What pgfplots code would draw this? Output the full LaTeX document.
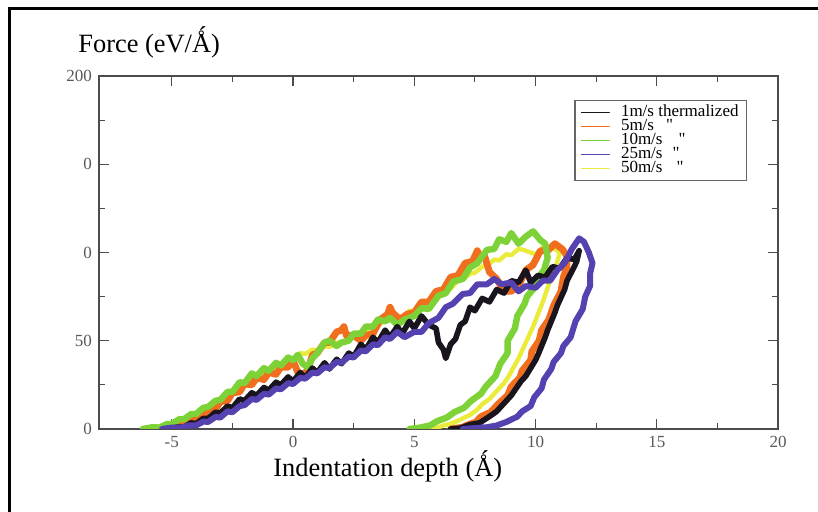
\documentclass[border=0pt]{standalone}
\usepackage{fontspec}
\setmainfont{Liberation Serif}
\usepackage{pgfplots}
\pgfplotsset{compat=1.18}

\definecolor{cBlack}{RGB}{25,20,30}
\definecolor{cOrange}{RGB}{240,110,30}
\definecolor{cGreen}{RGB}{125,210,55}
\definecolor{cBlue}{RGB}{85,65,175}
\definecolor{cYellow}{RGB}{235,235,60}

\begin{document}
\begin{tikzpicture}
\useasboundingbox (0,0) rectangle (409pt,256pt);
\fill[white] (0,0) rectangle (409pt,256pt);
\draw[line width=1.5pt] (4.5pt,-5pt) -- (4.5pt,251.8pt) -- (415pt,251.8pt);

\begin{axis}[
  at={(49.5pt,41.5pt)}, anchor=south west,
  scale only axis, width=339.5pt, height=176.5pt,
  xmin=-8, xmax=20, ymin=0, ymax=200,
  xtick={-5,0,5,10,15,20}, minor x tick num=1,
  ytick={0,50,100,150,200}, yticklabels={0,50,0,0,200}, minor y tick num=1,
  tick align=inside, major tick length=5pt, minor tick length=3pt,
  axis line style={draw=black!70, line width=0.7pt},
  every tick/.style={black!70, line width=0.6pt},
  tick label style={font=\fontsize{8.5}{9}\selectfont, text=black!65},
  /pgf/number format/assume math mode=true,
  legend style={at={(0.70,0.932)}, anchor=north west, draw=black!60,
    line width=0.6pt, font=\fontsize{8.5}{8.5}\selectfont,
    nodes={inner ysep=0pt, inner xsep=1pt, text height=5.3pt, text depth=1.7pt},
    row sep=0pt, inner xsep=3pt, inner ysep=2.5pt,
    cells={anchor=west}},
  legend cell align=left,
  legend image code/.code={\draw[#1, line width=0.5pt] (0pt,0pt) -- (14pt,0pt); \path (18.5pt,0pt);},
  every axis plot/.append style={line join=round, line cap=round},
]
% 50 m/s
\addplot[cYellow, line width=2.2pt, forget plot] coordinates {
(-6,0) (-5.5,1.5) (-5,1.5) (-4.7,4.5) (-4.5,4.5) (-4.2,7.5) (-4,7.5) (-3.7,11) (-3.5,11.5) (-3.2,15)
(-3,15.5) (-2.7,19) (-2.5,19.5) (-2.2,24) (-2,24.5) (-1.7,28) (-1.5,28.5) (-1.2,32) (-1,31.5) (-0.7,35)
(-0.5,35.5) (-0.2,39) (0,39.5) (0.3,43) (0.5,42.5) (0.8,45) (1,44.5) (1.3,47) (1.5,46.5) (1.8,49)
(2,48.5) (2.3,52) (2.5,51.5) (2.8,55) (3,55.5) (3.3,59) (3.5,58.5) (3.8,62) (4,61.5) (4.3,64)
(4.5,63.5) (4.8,67) (5,66.5) (5.3,70) (5.5,70.5) (5.8,75) (6,75.5) (6.3,79) (6.5,79.5) (6.8,84)
(7,84.5) (7.3,88) (7.5,88.5) (7.8,92) (8,92.5) (8.3,96) (8.5,95.5) (8.8,99) (9,98.5) (9.3,102)
(9.5,101.5) (9.8,100) (10,99) (10.3,103) (10.5,102) (10.8,102) (11,100) (10.9,95) (10.8,91) (10.6,84)
(10.5,80) (10.3,72) (10.1,65) (9.9,58) (9.7,52) (9.5,46) (9.3,40) (9.1,35) (8.9,30) (8.7,26)
(8.5,23) (8.3,20) (8.1,17) (7.8,14) (7.6,11) (7.3,8) (7,6) (6.7,4) (6.5,3) (6.2,2) (6,1) (5.5,0)
};
% 5 m/s
\addplot[cOrange, line width=3.4pt, forget plot] coordinates {
(-5.6,0) (-5.2,1.5) (-4.8,1.5) (-4.5,4) (-4.2,4.5) (-4,7) (-3.7,7.5) (-3.5,11) (-3.2,11) (-3,15.5)
(-2.7,16) (-2.5,20.5) (-2.2,21) (-2,25.5) (-1.7,25) (-1.5,29) (-1.2,28) (-1,32) (-0.7,31) (-0.5,35)
(-0.2,35) (0,39) (0.2,32) (0.4,31) (0.6,33) (0.8,42) (1,43) (1.3,49) (1.5,49) (1.8,55)
(2,56) (2.1,58) (2.2,53) (2.5,53) (2.8,50) (3,53) (3.3,54) (3.6,62) (3.9,65) (4,69)
(4.1,66) (4.4,62) (4.7,65) (5,66) (5.3,72) (5.6,72) (5.9,78) (6.2,79) (6.5,86) (6.8,87)
(7.1,94) (7.4,95) (7.6,101) (7.7,98) (7.9,98) (8.1,89) (8.4,85) (8.7,78) (9,78) (9.3,81)
(9.6,90) (9.9,93) (10.2,101) (10.5,101) (10.8,105) (11.1,102) (11.3,98) (11.3,92) (11.15,86) (11.05,78)
(10.75,70) (10.55,62) (10.25,56) (10.15,50) (9.85,44) (9.8,39) (9.45,33) (9.35,29) (9,24) (8.85,19)
(8.45,14) (8.15,9.5) (7.75,7) (7.55,4) (7.15,2) (7,1) (6.5,0)
};
% 10 m/s
\addplot[cGreen, line width=3.2pt, forget plot] coordinates {
(-6.2,0) (-5.8,1) (-5.5,0.8) (-5.2,2.8) (-5,2.8) (-4.7,5.5) (-4.5,5.5) (-4.2,8.5) (-4,8.5) (-3.7,12)
(-3.5,12.5) (-3.2,16) (-3,16.5) (-2.7,21) (-2.5,21) (-2.2,26.5) (-2,26) (-1.7,31.5) (-1.5,30) (-1.2,34.5)
(-1,33) (-0.7,37.5) (-0.5,36) (-0.2,40.5) (0,39) (0.2,42) (0.4,37) (0.6,35) (0.8,40) (1,43)
(1.3,49) (1.5,50) (1.8,47) (2,49) (2.3,50) (2.5,54) (2.8,54) (3,58) (3.3,58) (3.5,62)
(3.8,61) (4,63) (4.3,59) (4.6,62) (5,64) (5.3,68.5) (5.6,68) (6,75.5) (6.3,77) (6.6,83.5)
(7,85) (7.3,91.5) (7.6,94) (8,101.5) (8.3,102) (8.5,107.5) (8.8,106) (9,111) (9.3,105) (9.6,109)
(9.9,112) (10.2,107) (10.4,105) (10.5,97) (10.35,90) (10.05,85) (9.95,80) (9.65,75) (9.55,71) (9.25,64)
(9.15,57) (8.85,50) (8.85,43) (8.55,37) (8.35,30) (7.95,24) (7.75,20) (7.35,16) (7.05,12) (6.65,9.5)
(6.35,6.5) (5.95,4.5) (5.65,2) (5.2,0.7) (4.8,0)
};
% 1 m/s thermalized
\addplot[cBlack, line width=2.8pt, forget plot] coordinates {
(-5.2,0) (-4.8,1) (-4.5,1) (-4.2,3.5) (-4,3) (-3.7,6) (-3.5,6) (-3.2,9.5) (-3,9) (-2.7,13)
(-2.5,12) (-2.2,17) (-2,16) (-1.7,20.5) (-1.5,19) (-1.2,23.5) (-1,22) (-0.7,26.5) (-0.5,25) (-0.2,29.5)
(0,27) (0.3,32) (0.5,29) (0.8,34.5) (1,32) (1.3,37.5) (1.5,34) (1.8,39.5) (2,37) (2.3,43)
(2.5,41) (2.8,48) (3,45) (3.3,52) (3.5,49) (3.8,56) (4,52) (4.3,58) (4.5,54) (4.8,61)
(5,57) (5.3,64) (5.6,59) (5.9,57) (6,49) (6.2,45) (6.3,40) (6.5,48) (6.7,51) (6.9,59)
(7.1,61) (7.3,69) (7.5,67) (7.8,74) (8.1,72) (8.4,79) (8.7,77) (9,84) (9.3,83) (9.6,90)
(9.8,83) (10.1,87) (10.4,86) (10.7,92) (11,91) (11.3,97) (11.6,96) (11.8,101) (11.7,95) (11.6,92)
(11.3,84) (11.2,79) (10.9,70) (10.8,66) (10.5,56) (10.4,52) (10.1,42) (10,39) (9.6,30) (9.4,27)
(9,19) (8.8,16) (8.4,10) (8.2,8) (7.7,3.5) (7.3,2.5) (6.9,0.5) (6.5,0)
};
% 25 m/s
\addplot[cBlue, line width=3pt, forget plot] coordinates {
(-5.4,0) (-5,0.8) (-4.6,0.8) (-4.3,2) (-4,2) (-3.7,4.2) (-3.5,4) (-3.2,6.8) (-3,6.5) (-2.7,10)
(-2.5,9.5) (-2.2,13) (-2,13.5) (-1.7,17) (-1.5,16.5) (-1.2,20) (-1,19.5) (-0.7,23) (-0.5,22.5) (-0.2,26)
(0,25.5) (0.3,29) (0.5,28.5) (0.8,32) (1,31.5) (1.3,35) (1.5,34.5) (1.8,38) (2,37.5) (2.3,41)
(2.5,40.5) (2.8,44.5) (3,44) (3.3,48) (3.5,47.5) (3.8,52) (4,51) (4.3,55) (4.6,52) (5,55)
(5.3,55) (5.6,60) (6,63) (6.3,69) (6.6,71) (7,76.5) (7.3,77) (7.6,82) (8,82) (8.3,85)
(8.6,82) (9,83) (9.3,78) (9.6,81) (10,80) (10.3,84) (10.6,84) (10.9,90) (11.2,94) (11.5,102)
(11.8,108) (12,106) (12.2,100) (12.35,94) (12.25,88) (12.25,81) (12.05,75) (11.95,68) (11.65,61) (11.45,52)
(11.15,47) (11.05,43) (10.75,38) (10.65,34) (10.35,28) (10.25,23) (9.95,18) (9.8,13) (9.45,10) (9.25,7)
(8.8,4) (8.4,2) (8,1) (7.5,0.5) (7,0)
};
\addlegendimage{cBlack}
\addlegendentry{1m/s thermalized}
\addlegendimage{cOrange}
\addlegendentry{5m/s\hspace{6pt}\textquotedbl}
\addlegendimage{cGreen}
\addlegendentry{10m/s\hspace{8pt}\textquotedbl}
\addlegendimage{cBlue}
\addlegendentry{25m/s\hspace{5pt}\textquotedbl}
\addlegendimage{cYellow}
\addlegendentry{50m/s\hspace{7pt}\textquotedbl}
\end{axis}

\node[anchor=base west, inner sep=0pt, font=\fontsize{13.2}{14}\selectfont]
  at (39pt,229.5pt) {Force (eV/Ǻ)};
\node[anchor=base west, inner sep=0pt, font=\fontsize{13.2}{14}\selectfont]
  at (136.5pt,17.5pt) {Indentation depth (Ǻ)};
\end{tikzpicture}
\end{document}
